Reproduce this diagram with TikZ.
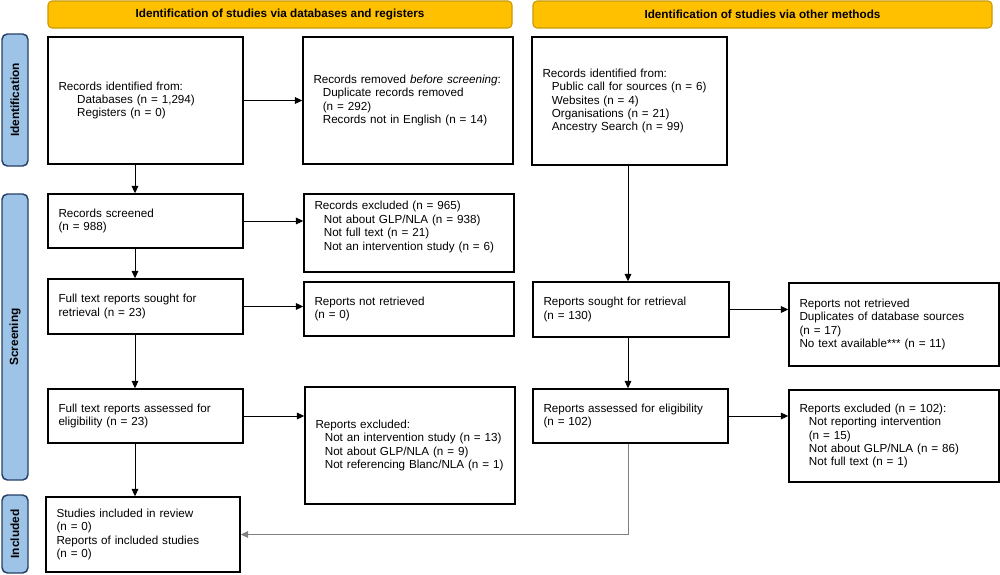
\documentclass[tikz,border=0pt]{standalone}
\usepackage{fontspec}
\setmainfont{Liberation Sans}
\usetikzlibrary{arrows.meta}
\definecolor{hdrfill}{HTML}{FFC000}
\definecolor{hdrdraw}{HTML}{C99A06}
\definecolor{sidefill}{HTML}{9DC3E6}
\definecolor{sidedraw}{HTML}{263F66}
\newcommand\PX{0.75pt}
\newcommand\myind{\hspace*{7pt}}
\newcommand\myindb{\hspace*{14pt}}
\begin{document}
\begin{tikzpicture}[x=0.75pt,y=-0.75pt,
  every node/.style={font=\fontsize{8.75}{10.1}\selectfont},
  box/.style={draw=black, line width=1.1pt, fill=white, align=left,
    inner xsep=10.5*\PX, inner ysep=0pt},
  boxtext/.style={align=left, inner xsep=10.5*\PX, inner ysep=0pt},
  hdr/.style={draw=hdrdraw, fill=hdrfill, line width=0.8pt, rounded corners=3pt,
    font=\fontsize{8.8}{10.2}\selectfont\bfseries, inner sep=0pt},
  side/.style={draw=sidedraw, fill=sidefill, line width=1.1pt, rounded corners=4pt,
    inner sep=0pt},
  sidetext/.style={rotate=90, font=\fontsize{8.9}{10.2}\selectfont\bfseries},
  arr/.style={line width=0.7pt, -{Triangle[length=5.5pt,width=5pt]}},
  garr/.style={line width=0.7pt, draw=gray, -{Triangle[length=5.5pt,width=5pt]}}
]
\useasboundingbox (0,0) rectangle (1000,575);

% headers
\node[hdr, minimum width=464*\PX, minimum height=27*\PX] (h1) at (280,14.5)
  {Identification of studies via databases and registers};
\node[hdr, minimum width=459*\PX, minimum height=27*\PX] (h2) at (762.5,14.5)
  {Identification of studies via other methods};

% side bars
\node[side, minimum width=26*\PX, minimum height=132*\PX] (s1) at (15,100) {};
\node[sidetext] (s1t) at (s1.center) {Identification};
\node[side, minimum width=26*\PX, minimum height=286*\PX] (s2) at (15,337) {};
\node[sidetext] (s2t) at (s2.center) {Screening};
\node[side, minimum width=26*\PX, minimum height=78*\PX] (s3) at (15,534) {};
\node[sidetext] (s3t) at (s3.center) {Included};

% boxes
\node[box, text width=174*\PX, minimum height=127*\PX] (A) at (145.5,100.5)
  {Records identified from:\\ \myindb Databases (n = 1,294)\\ \myindb Registers (n = 0)};
\node[box, text width=189*\PX, minimum height=127*\PX] (B) at (408,100.5)
  {Records removed \textit{before screening}:\\ \myind Duplicate records removed\\ \myind (n = 292)\\ \myind Records not in English (n = 14)};
\node[box, text width=174*\PX, minimum height=128*\PX] (C) at (629.5,101)
  {Records identified from:\\ \myind Public call for sources (n = 6)\\ \myind Websites (n = 4)\\ \myind Organisations (n = 21)\\ \myind Ancestry Search (n = 99)};
\node[box, text width=174*\PX, minimum height=54*\PX] (D) at (145.5,221)
  {Records screened\\ (n = 988)};
\node[box, text width=189*\PX, minimum height=78*\PX] (E) at (409,233) {};
\node[boxtext, text width=189*\PX] (Et) at (409,227)
  {Records excluded (n = 965)\\ \myind Not about GLP/NLA (n = 938)\\ \myind Not full text (n = 21)\\ \myind Not an intervention study (n = 6)};
\node[box, text width=174*\PX, minimum height=55*\PX] (F) at (145.5,306.5)
  {Full text reports sought for\\ retrieval (n = 23)};
\node[box, text width=189*\PX, minimum height=54*\PX] (G) at (409,309)
  {Reports not retrieved\\ (n = 0)};
\node[box, text width=175*\PX, minimum height=55*\PX] (H) at (631,309.5)
  {Reports sought for retrieval\\ (n = 130)};
\node[box, text width=189*\PX, minimum height=83*\PX] (I) at (894,324.5)
  {Reports not retrieved\\ Duplicates of database sources\\ (n = 17)\\ No text available*** (n = 11)};
\node[box, text width=174*\PX, minimum height=54*\PX] (J) at (630.5,416)
  {Reports assessed for eligibility\\ (n = 102)};
\node[box, text width=189*\PX, minimum height=92*\PX] (K) at (894,436)
  {Reports excluded (n = 102):\\ \myind Not reporting intervention\\ \myind (n = 15)\\ \myind Not about GLP/NLA (n = 86)\\ \myind Not full text (n = 1)};
\node[box, text width=174*\PX, minimum height=54*\PX] (M) at (145.5,416)
  {Full text reports assessed for\\ eligibility (n = 23)};
\node[box, text width=189*\PX, minimum height=117*\PX] (N) at (410,445.5)
  {Reports excluded:\\ \myind Not an intervention study (n = 13)\\ \myind Not about GLP/NLA (n = 9)\\ \myind Not referencing Blanc/NLA (n = 1)};
\node[box, text width=173*\PX, minimum height=75*\PX] (L) at (143,534.5)
  {Studies included in review\\ (n = 0)\\ Reports of included studies\\ (n = 0)};

% column coordinates
\coordinate (lx) at (135,0);
\coordinate (rx) at (628,0);

% horizontal arrows
\draw[arr] (A.east) -- (A.east -| B.west);
\draw[arr] (D.east) -- (D.east -| E.west);
\draw[arr] (F.east) -- (F.east -| G.west);
\draw[arr] (M.east) -- (M.east -| N.west);
\draw[arr] (H.east) -- (H.east -| I.west);
\draw[arr] (J.east) -- (J.east -| K.west);

% vertical arrows
\draw[arr] (A.south -| lx) -- (D.north -| lx);
\draw[arr] (D.south -| lx) -- (F.north -| lx);
\draw[arr] (F.south -| lx) -- (M.north -| lx);
\draw[arr] (M.south -| lx) -- (L.north -| lx);
\draw[arr] (C.south -| rx) -- (H.north -| rx);
\draw[arr] (H.south -| rx) -- (J.north -| rx);
\draw[garr] (J.south -| rx) |- (L.east);
\end{tikzpicture}
\end{document}
